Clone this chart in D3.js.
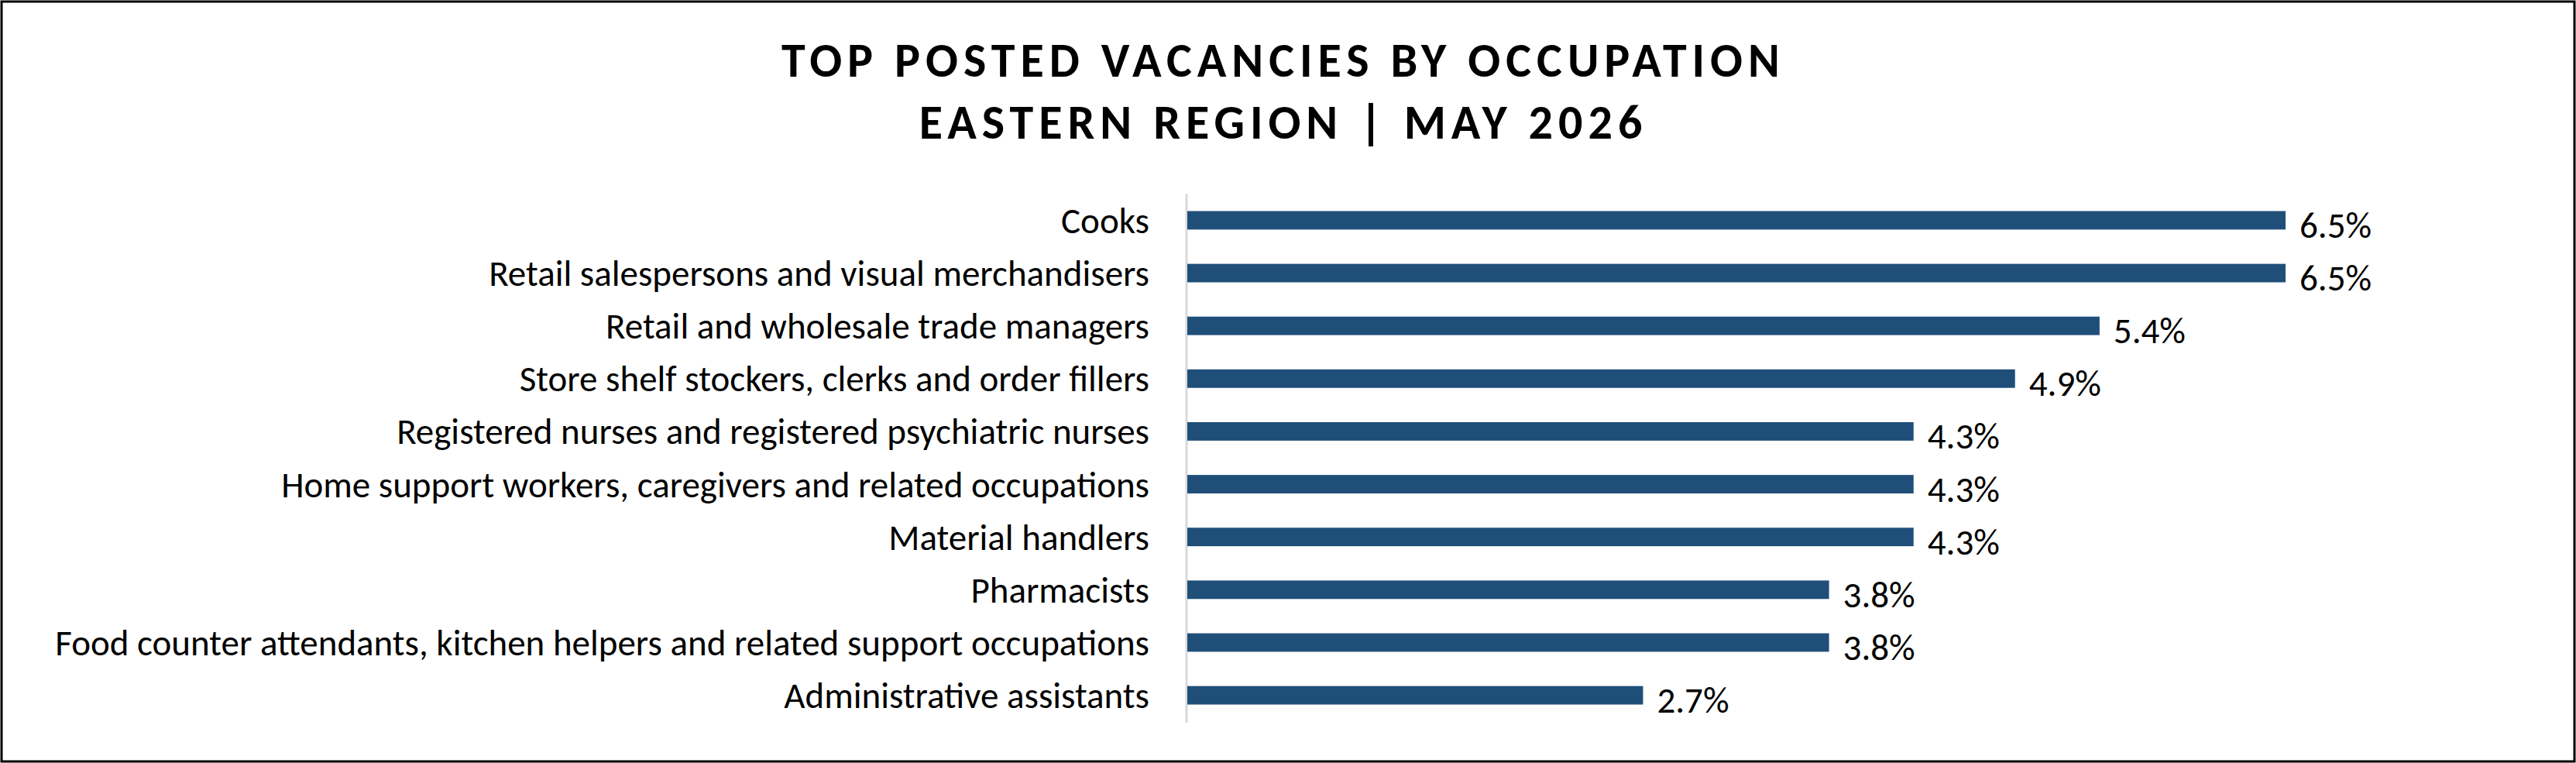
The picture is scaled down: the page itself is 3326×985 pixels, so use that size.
<!DOCTYPE html>
<html><head><meta charset="utf-8">
<script src="https://cdn.jsdelivr.net/npm/d3@7"></script>
<style>body{margin:0;background:#fff}</style>
</head><body><div id="chart"></div>
<script>
// Chart data
const occupations = [
  "Cooks",
  "Retail salespersons and visual merchandisers",
  "Retail and wholesale trade managers",
  "Store shelf stockers, clerks and order fillers",
  "Registered nurses and registered psychiatric nurses",
  "Home support workers, caregivers and related occupations",
  "Material handlers",
  "Pharmacists",
  "Food counter attendants, kitchen helpers and related support occupations",
  "Administrative assistants"
];
const shares = [6.5, 6.5, 5.4, 4.9, 4.3, 4.3, 4.3, 3.8, 3.8, 2.7];
const titleLines = ["TOP POSTED VACANCIES BY OCCUPATION", "EASTERN REGION | MAY 2026"];

const W = 3326, H = 985;
const font = "Calibri, Carlito, Lato, sans-serif";

const svg = d3.select("#chart").append("svg")
  .attr("width", W).attr("height", H);

// outer border
svg.append("rect")
  .attr("x", 2).attr("y", 2).attr("width", W - 4).attr("height", H - 4)
  .attr("fill", "#fff").attr("stroke", "#000").attr("stroke-width", 3);

// title
svg.selectAll("text.title").data(titleLines).enter().append("text")
  .attr("class", "title")
  .attr("x", 1657).attr("y", (d, i) => 99 + i * 80)
  .attr("text-anchor", "middle")
  .style("font-family", font).style("font-weight", "bold")
  .style("font-size", "62px").style("letter-spacing", "7px")
  .text(d => d);

const x = d3.scaleLinear().domain([0, 6.5]).range([1532, 2951]);
const y = d3.scaleBand().domain(occupations).range([250, 932]).paddingInner(0.65).paddingOuter(0.33);

// axis line
svg.append("line")
  .attr("x1", x(0)).attr("x2", x(0)).attr("y1", 250).attr("y2", 933)
  .attr("stroke", "#d9d9d9").attr("stroke-width", 3);

svg.selectAll("rect.bar").data(shares).enter().append("rect")
  .attr("class", "bar")
  .attr("x", x(0) + 1)
  .attr("y", (d, i) => y(occupations[i]))
  .attr("width", d => x(d) - x(0) - 1)
  .attr("height", y.bandwidth())
  .attr("fill", "#1f4e79");

svg.selectAll("text.cat").data(occupations).enter().append("text")
  .attr("class", "cat")
  .attr("x", x(0) - 48)
  .attr("y", d => y(d) + y.bandwidth() / 2)
  .attr("dy", "0.35em").attr("text-anchor", "end")
  .style("font-family", font).style("font-size", "47px")
  .text(d => d);

svg.selectAll("text.val").data(shares).enter().append("text")
  .attr("class", "val")
  .attr("x", d => x(d) + 18)
  .attr("y", (d, i) => y(occupations[i]) + y.bandwidth() / 2 + 6)
  .attr("dy", "0.35em")
  .style("font-family", font).style("font-size", "47px")
  .text(d => d.toFixed(1) + "%");
</script></body></html>
